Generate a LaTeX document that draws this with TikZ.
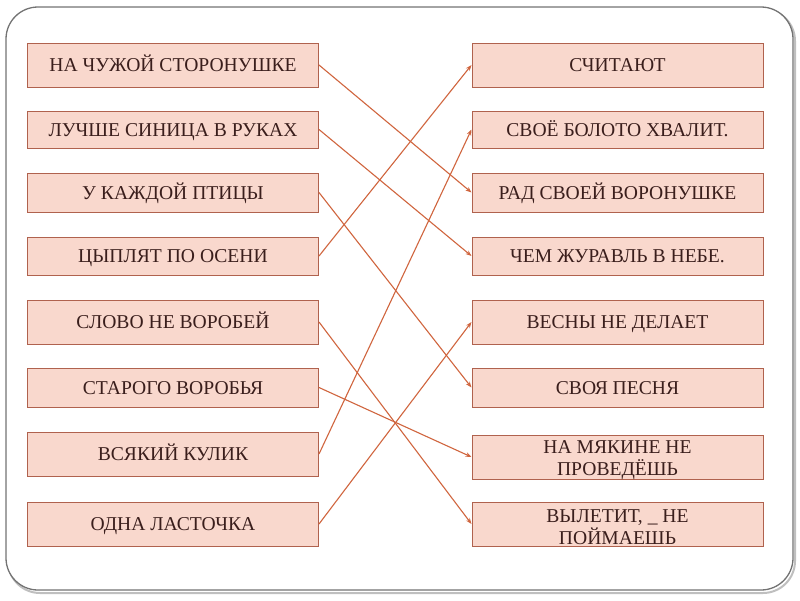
\documentclass[tikz,border=0pt]{standalone}
\usepackage{fontspec}
\setmainfont{Liberation Serif}
\usepackage{xcolor}
\usetikzlibrary{arrows.meta}

\definecolor{boxfill}{HTML}{F9D8CD}
\definecolor{boxline}{HTML}{B0624E}
\definecolor{linkcol}{HTML}{D0653E}
\definecolor{txtcol}{HTML}{3A1E1C}

\begin{document}
\begin{tikzpicture}[x=1pt, y=-1pt,
    box/.style={draw=boxline, fill=boxfill, line width=1pt, minimum width=291pt,
      inner sep=0pt, text=txtcol, align=center,
      font=\fontsize{19.6}{22}\selectfont},
    oneline/.style={box, text height=13pt, text depth=0pt},
    twotext/.style={inner sep=0pt, text=txtcol, align=center, anchor=center,
      font=\fontsize{19.6}{22}\selectfont, yshift=-3.5pt},
    link/.style={linkcol, line width=1.1pt, -{Stealth[length=6pt,width=4.5pt]}}]
  % cornice
  \useasboundingbox (0,0) rectangle (800,600);
  \draw[gray!50, line width=2pt, rounded corners=32pt] (8,9) rectangle (795,593);
  \draw[gray!90!black, line width=1.3pt, rounded corners=32pt, fill=white] (6,7) rectangle (793,590);

  % colonna sinistra
  \node[oneline, minimum height=44pt] (l1) at (173,65) {НА ЧУЖОЙ СТОРОНУШКЕ};
  \node[oneline, minimum height=37pt] (l2) at (173,129.5) {ЛУЧШЕ СИНИЦА В РУКАХ};
  \node[oneline, minimum height=39pt] (l3) at (173,192.5) {У КАЖДОЙ ПТИЦЫ};
  \node[oneline, minimum height=38pt] (l4) at (173,256) {ЦЫПЛЯТ ПО ОСЕНИ};
  \node[oneline, minimum height=44pt] (l5) at (173,322) {СЛОВО НЕ ВОРОБЕЙ};
  \node[oneline, minimum height=39pt] (l6) at (173,387.5) {СТАРОГО ВОРОБЬЯ};
  \node[oneline, minimum height=44pt] (l7) at (173,454) {ВСЯКИЙ КУЛИК};
  \node[oneline, minimum height=44pt] (l8) at (173,524) {ОДНА ЛАСТОЧКА};

  % colonna destra
  \node[oneline, minimum height=44pt] (r1) at (617.5,65) {СЧИТАЮТ};
  \node[oneline, minimum height=37pt] (r2) at (617.5,129.5) {СВОЁ БОЛОТО ХВАЛИТ.};
  \node[oneline, minimum height=39pt] (r3) at (617.5,192.5) {РАД СВОЕЙ ВОРОНУШКЕ};
  \node[oneline, minimum height=38pt] (r4) at (617.5,256) {ЧЕМ ЖУРАВЛЬ В НЕБЕ.};
  \node[oneline, minimum height=44pt] (r5) at (617.5,322) {ВЕСНЫ НЕ ДЕЛАЕТ};
  \node[oneline, minimum height=39pt] (r6) at (617.5,387.5) {СВОЯ ПЕСНЯ};
  \node[box, minimum height=44pt] (r7) at (617.5,457) {};
  \node[twotext] (r7t) at (r7.center) {НА МЯКИНЕ НЕ\\ПРОВЕДЁШЬ};
  \node[box, minimum height=44pt] (r8) at (617.5,524) {};
  \node[twotext] (r8t) at (r8.center) {ВЫЛЕТИТ, \_ НЕ\\ПОЙМАЕШЬ};

  % collegamenti
  \foreach \a/\b in {l1/r3, l2/r4, l3/r6, l4/r1, l5/r8, l6/r7, l7/r2, l8/r5}
    \draw[link] (\a.east) -- (\b.west);
\end{tikzpicture}
\end{document}
